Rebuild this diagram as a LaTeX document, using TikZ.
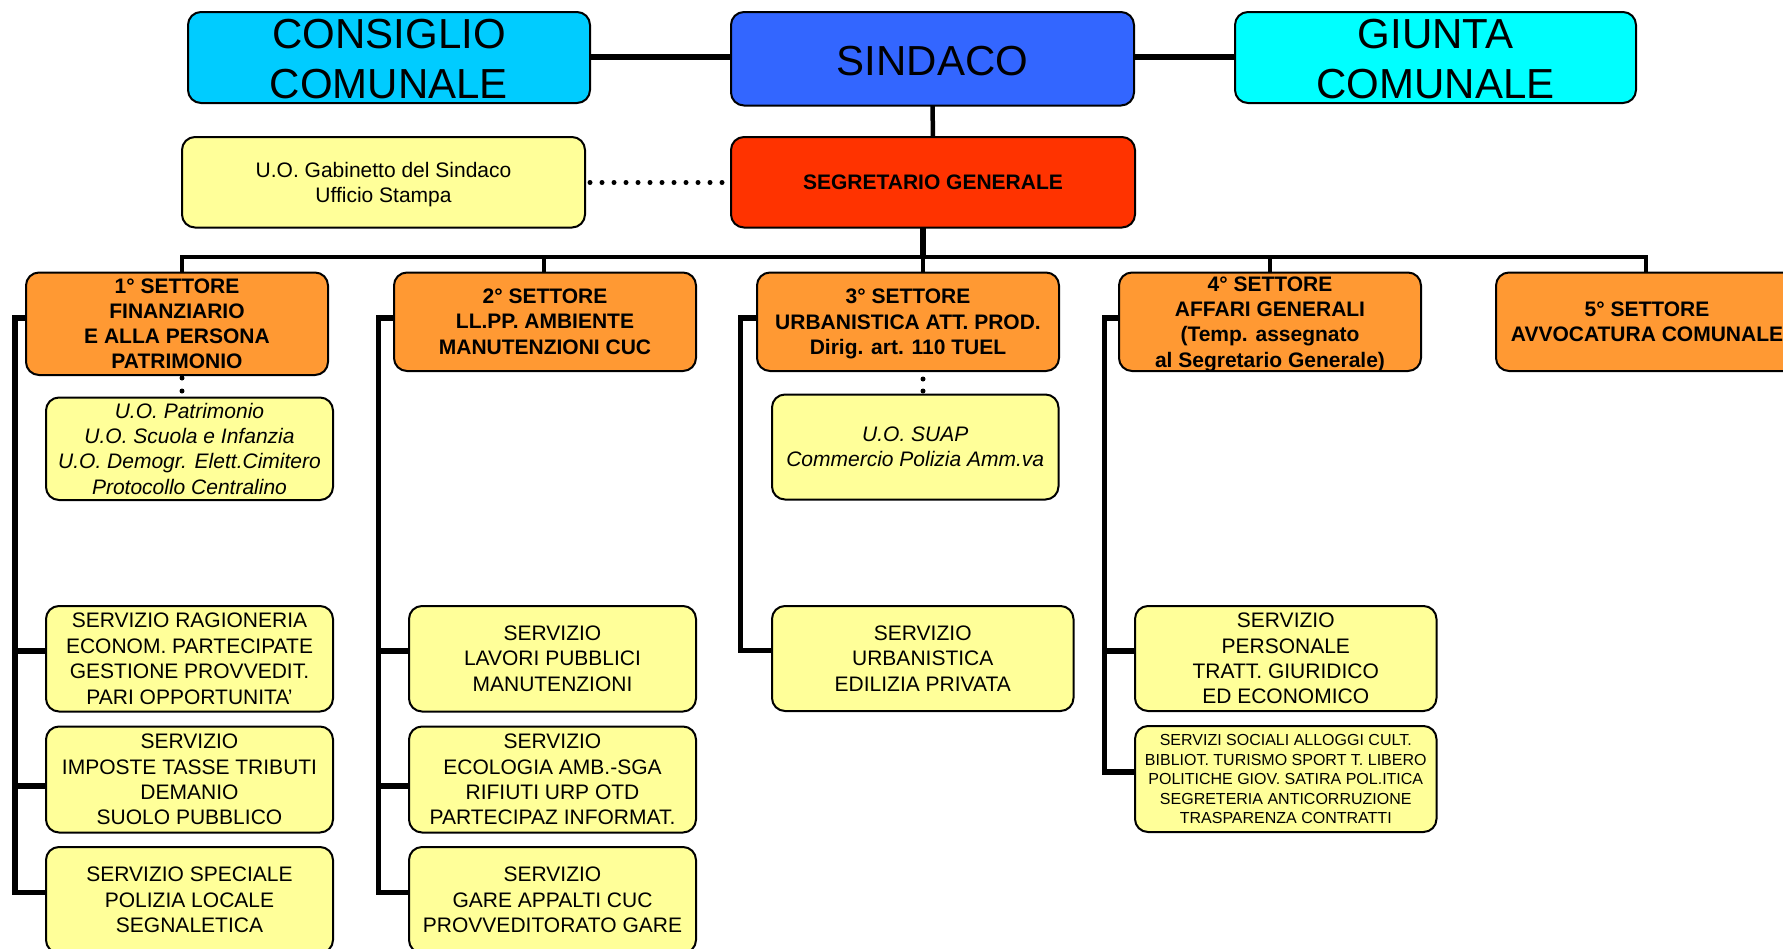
\documentclass[tikz,border=0pt]{standalone}
\usepackage{fontspec}
\setmainfont{Liberation Sans}
\definecolor{consc}{HTML}{00CCFF}
\definecolor{sindc}{HTML}{3366FF}
\definecolor{giunc}{HTML}{00FFFF}
\definecolor{segc}{HTML}{FF3300}
\definecolor{orac}{HTML}{FF9933}
\definecolor{yelc}{HTML}{FFFF99}
\newcommand{\nodepth}[1]{\raisebox{0pt}[\height][0pt]{#1}}
\newcommand{\tallline}[1]{\raisebox{0pt}[\dimexpr\height+4pt\relax]{#1}}
\tikzset{
  box/.style={draw=black, line width=2pt, rounded corners=13pt, inner sep=0pt, outer sep=0pt, align=center, text=black},
  bigbox/.style={box, font={\fontsize{42}{50}\selectfont}},
  segbox/.style={box, fill=segc, font={\fontsize{21}{25.3}\selectfont\bfseries}},
  setbox/.style={box, fill=orac, minimum width=302pt, font={\fontsize{21}{25.3}\selectfont\bfseries}},
  yelbox/.style={box, fill=yelc, font={\fontsize{21}{25.4}\selectfont}},
  itbox/.style={yelbox, font={\fontsize{21}{25.4}\selectfont\itshape}},
  smallbox/.style={box, fill=yelc, font={\fontsize{16}{19.5}\selectfont}},
  heavy/.style={line width=5.5pt, line join=miter},
  medium/.style={line width=4.5pt, line join=miter},
  dotline/.style={line width=5pt, line cap=round, dash pattern=on 0pt off 12pt},
}
\begin{document}
\begin{tikzpicture}[x=1pt,y=-1pt]
\useasboundingbox (0,0) rectangle (1783,948);
\clip (0,0) rectangle (1783,948);

% top row
\node[bigbox, fill=consc, minimum width=402pt, minimum height=91pt] (cons) at (389,57.5) {\tallline{CONSIGLIO}\\COMUNALE};
\node[bigbox, fill=sindc, minimum width=403pt, minimum height=93.5pt] (sind) at (932.5,58.75) {\tallline{SINDACO}};
\node[bigbox, fill=giunc, minimum width=401pt, minimum height=91pt] (giun) at (1435.5,57.5) {\tallline{GIUNTA}\\COMUNALE};

% second row
\node[yelbox, minimum width=403pt, minimum height=90.5pt] (gab) at (383.5,182.25) {U.O. Gabinetto del Sindaco\\\nodepth{Ufficio Stampa}};
\node[segbox, minimum width=404pt, minimum height=90.5pt] (seg) at (933,182.25) {SEGRETARIO GENERALE};

% settori
\node[setbox, minimum height=102.5pt] (s1) at (177,323.75) {1° SETTORE\\FINANZIARIO\\E ALLA PERSONA\\PATRIMONIO};
\node[setbox, minimum height=98.5pt] (s2) at (545,321.75) {2° SETTORE\\LL.PP. AMBIENTE\\MANUTENZIONI CUC};
\node[setbox, minimum height=98.5pt] (s3) at (908,321.75) {3° SETTORE\\URBANISTICA ATT. PROD.\\\nodepth{Dirig. art. 110 TUEL}};
\node[setbox, minimum height=98.5pt] (s4) at (1270,321.75) {4° SETTORE\\AFFARI GENERALI\\(Temp. assegnato\\\nodepth{al Segretario Generale)}};
\node[setbox, minimum height=98.5pt] (s5) at (1647,321.75) {5° SETTORE\\AVVOCATURA COMUNALE};

% settore 1 children
\node[itbox, minimum width=287pt, minimum height=102.5pt] (u1) at (189.5,448.75) {U.O. Patrimonio\\U.O. Scuola e Infanzia\\U.O. Demogr. Elett.Cimitero\\Protocollo Centralino};
\node[yelbox, minimum width=287pt, minimum height=105.5pt] (r1) at (189.5,658.75) {SERVIZIO RAGIONERIA\\ECONOM. PARTECIPATE\\GESTIONE PROVVEDIT.\\PARI OPPORTUNITA’};
\node[yelbox, minimum width=287pt, minimum height=106pt] (r2) at (189.5,779.5) {SERVIZIO\\IMPOSTE TASSE TRIBUTI\\DEMANIO\\SUOLO PUBBLICO};
\node[yelbox, minimum width=287pt, minimum height=106pt] (r3) at (189.5,900) {SERVIZIO SPECIALE\\POLIZIA LOCALE\\SEGNALETICA};

% settore 2 children
\node[yelbox, minimum width=287pt, minimum height=105.5pt] (q1) at (552.5,658.75) {SERVIZIO\\LAVORI PUBBLICI\\MANUTENZIONI};
\node[yelbox, minimum width=287pt, minimum height=106pt] (q2) at (552.5,779.5) {SERVIZIO\\ECOLOGIA AMB.-SGA\\RIFIUTI URP OTD\\PARTECIPAZ INFORMAT.};
\node[yelbox, minimum width=287pt, minimum height=106pt] (q3) at (552.5,900) {SERVIZIO\\GARE APPALTI CUC\\PROVVEDITORATO GARE};

% settore 3 children
\node[itbox, minimum width=286.5pt, minimum height=105pt] (u3) at (915.25,447) {U.O. SUAP\\Commercio Polizia Amm.va};
\node[yelbox, minimum width=301.5pt, minimum height=105pt] (c1) at (922.75,658.5) {SERVIZIO\\URBANISTICA\\EDILIZIA PRIVATA};

% settore 4 children
\node[yelbox, minimum width=301.5pt, minimum height=105pt] (d1) at (1285.75,658.5) {SERVIZIO\\PERSONALE\\TRATT. GIURIDICO\\ED ECONOMICO};
\node[smallbox, minimum width=301.5pt, minimum height=106pt] (d2) at (1285.75,779) {SERVIZI SOCIALI ALLOGGI CULT.\\BIBLIOT. TURISMO SPORT T. LIBERO\\POLITICHE GIOV. SATIRA POL.ITICA\\SEGRETERIA ANTICORRUZIONE\\TRASPARENZA CONTRATTI};

% top connectors
\draw[line width=6pt] (cons.east |- 0,57) -- (sind.west |- 0,57);
\draw[line width=6pt] (sind.east |- 0,57) -- (giun.west |- 0,57);
\draw[line width=4.5pt] (sind.south) -- (seg.north);
\draw[dotline] (gab.east |- 0,182.5) ++(5,0) -- (726,182.5);

% bus
\coordinate (b1) at (182,257);
\coordinate (b2) at (544,257);
\coordinate (b3) at (923,257);
\coordinate (b4) at (1270,257);
\coordinate (b5) at (1646,257);
\draw[heavy] (seg.south -| b3) -- (b3);
\draw[medium] (s1.north -| b1) -- (b1) -- (b5) -- (s5.north -| b5);
\draw[medium] (b2) -- (s2.north -| b2);
\draw[medium] (b3) -- (s3.north -| b3);
\draw[medium] (b4) -- (s4.north -| b4);

% dotted links to U.O. boxes
\draw[dotline, dash pattern=on 0pt off 13pt] (s1.south -| b1) ++(0,3) -- (u1.north -| b1);
\draw[dotline, dash pattern=on 0pt off 12pt] (s3.south -| b3) ++(0,8) -- (u3.north -| b3);

% spine settore 1
\coordinate (p1t) at (15,318);
\coordinate (p1b) at (15,892.5);
\draw[heavy] (s1.west |- p1t) -- (p1t) -- (p1b) -- (r3.west |- p1b);
\draw[heavy] (15,651) -- (r1.west |- 0,651);
\draw[heavy] (15,786) -- (r2.west |- 0,786);

% spine settore 2
\coordinate (p2t) at (378.5,318);
\coordinate (p2b) at (378.5,892.5);
\draw[heavy] (s2.west |- p2t) -- (p2t) -- (p2b) -- (q3.west |- p2b);
\draw[heavy] (378.5,651) -- (q1.west |- 0,651);
\draw[heavy] (378.5,786) -- (q2.west |- 0,786);

% spine settore 3
\coordinate (p3t) at (740.5,318);
\coordinate (p3b) at (740.5,650.5);
\draw[heavy] (s3.west |- p3t) -- (p3t) -- (p3b) -- (c1.west |- p3b);

% spine settore 4
\coordinate (p4t) at (1104.5,318);
\coordinate (p4b) at (1104.5,772);
\draw[heavy] (s4.west |- p4t) -- (p4t) -- (p4b) -- (d2.west |- p4b);
\draw[heavy] (1104.5,651) -- (d1.west |- 0,651);
\end{tikzpicture}
\end{document}
